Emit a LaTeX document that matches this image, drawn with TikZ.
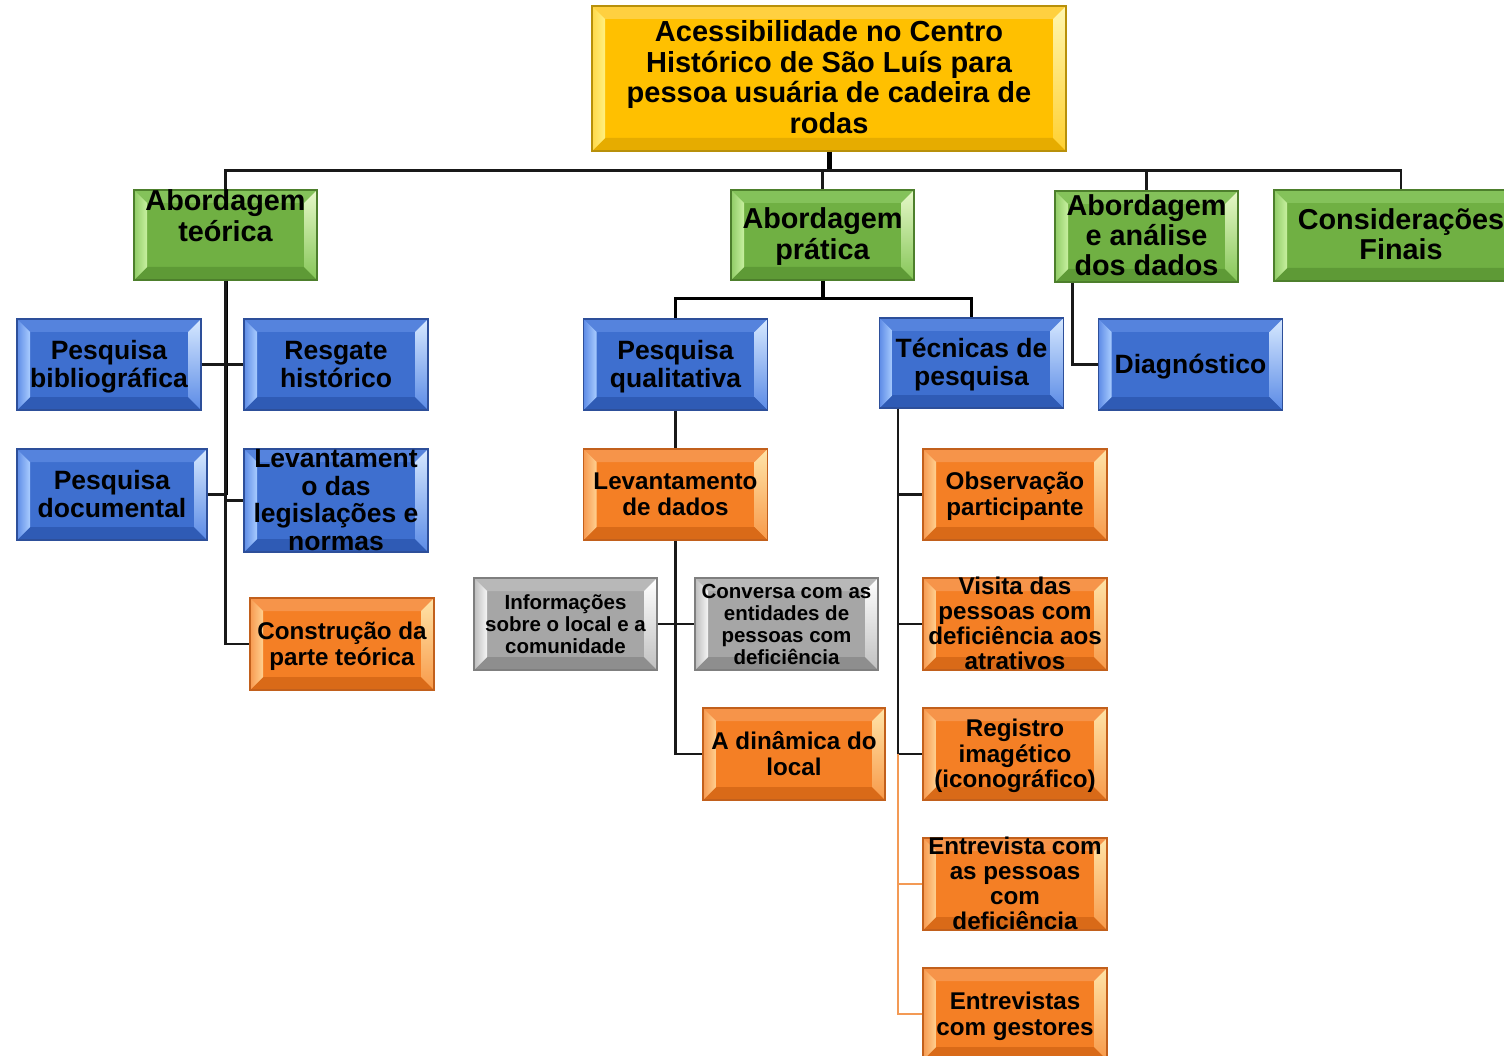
\documentclass[tikz,border=0pt]{standalone}
\usepackage{fontspec}
\setmainfont{Liberation Sans}
\usetikzlibrary{calc}
% colour families
\definecolor{ylwBase}{HTML}{FFC000}\definecolor{ylwEdge}{HTML}{B8900A}
\definecolor{ylwTop}{HTML}{FFD040}\definecolor{ylwBot}{HTML}{E6AC00}
\definecolor{ylwLeftA}{HTML}{FFD84A}\definecolor{ylwLeftB}{HTML}{FFF080}
\definecolor{ylwRightA}{HTML}{FFF6B0}\definecolor{ylwRightB}{HTML}{FFD030}
\definecolor{grnBase}{HTML}{70B043}\definecolor{grnEdge}{HTML}{4D7F2C}
\definecolor{grnTop}{HTML}{84C25A}\definecolor{grnBot}{HTML}{5E9A36}
\definecolor{grnLeftA}{HTML}{90CC66}\definecolor{grnLeftB}{HTML}{C8F0A0}
\definecolor{grnRightA}{HTML}{E6F8C8}\definecolor{grnRightB}{HTML}{86C658}
\definecolor{bluBase}{HTML}{3E6FCF}\definecolor{bluEdge}{HTML}{2D4F9A}
\definecolor{bluTop}{HTML}{5583DD}\definecolor{bluBot}{HTML}{2F5BB5}
\definecolor{bluLeftA}{HTML}{5E8CE6}\definecolor{bluLeftB}{HTML}{A9CCFF}
\definecolor{bluRightA}{HTML}{D6E8FF}\definecolor{bluRightB}{HTML}{5B8BE6}
\definecolor{orgBase}{HTML}{F47F25}\definecolor{orgEdge}{HTML}{C2601C}
\definecolor{orgTop}{HTML}{F6944A}\definecolor{orgBot}{HTML}{D96A18}
\definecolor{orgLeftA}{HTML}{F79A50}\definecolor{orgLeftB}{HTML}{FFD090}
\definecolor{orgRightA}{HTML}{FFE4A8}\definecolor{orgRightB}{HTML}{F89A4A}
\definecolor{gryBase}{HTML}{A6A6A6}\definecolor{gryEdge}{HTML}{7F7F7F}
\definecolor{gryTop}{HTML}{B8B8B8}\definecolor{gryBot}{HTML}{8E8E8E}
\definecolor{gryLeftA}{HTML}{BDBDBD}\definecolor{gryLeftB}{HTML}{F5F5F5}
\definecolor{gryRightA}{HTML}{FFFFFF}\definecolor{gryRightB}{HTML}{C0C0C0}
\definecolor{lnOrange}{HTML}{F39A55}
\newcommand\bx[2][0pt]{\raisebox{\dimexpr(\depth-\height)/2-3pt+#1\relax}[0pt][0pt]{\begin{tabular}{@{}c@{}}#2\end{tabular}}}
\tikzset{
  bev/.style={rectangle, inner sep=0pt, fill=#1Base, draw=#1Edge, line width=1.2pt, text=black,
    path picture={
      \path (path picture bounding box.north west) coordinate (q1)
            (path picture bounding box.north east) coordinate (q2)
            (path picture bounding box.south east) coordinate (q3)
            (path picture bounding box.south west) coordinate (q4);
      \fill[#1Top] (q1) -- (q2) -- ([shift={(-13pt,-13pt)}]q2) -- ([shift={(13pt,-13pt)}]q1) -- cycle;
      \fill[#1Bot] (q4) -- (q3) -- ([shift={(-13pt,13pt)}]q3) -- ([shift={(13pt,13pt)}]q4) -- cycle;
      \shade[left color=#1LeftA, right color=#1LeftB] (q1) -- ([shift={(13pt,-13pt)}]q1) -- ([shift={(13pt,13pt)}]q4) -- (q4) -- cycle;
      \shade[top color=#1RightA, bottom color=#1RightB] (q2) -- (q3) -- ([shift={(-13pt,13pt)}]q3) -- ([shift={(-13pt,-13pt)}]q2) -- cycle;
    }},
  titlebox/.style={bev=ylw, font=\fontsize{29}{30.7}\selectfont\bfseries},
  greenbox/.style={bev=grn, minimum width=183, minimum height=91, font=\fontsize{28.8}{30}\selectfont\bfseries},
  bluebox/.style={bev=blu, minimum width=184, minimum height=91, font=\fontsize{26.5}{28}\selectfont\bfseries},
  orangebox/.style={bev=org, minimum width=184, minimum height=92, font=\fontsize{24.2}{26}\selectfont\bfseries},
  graybox/.style={bev=gry, minimum width=183, minimum height=92, font=\fontsize{20.5}{22}\selectfont\bfseries},
  tight/.style={font=\fontsize{24.2}{25}\selectfont\bfseries},
  conn/.style={draw=black!90, line width=2.2pt},
  bus/.style={draw=black, line width=3.4pt},
  stub/.style={draw=black, line width=5pt},
  oconn/.style={draw=lnOrange, line width=2.2pt},
}
\begin{document}
\begin{tikzpicture}[x=1pt,y=-1pt]
\useasboundingbox[fill=white] (0,0) rectangle (1504,1056);
% title
\node[titlebox, minimum width=474, minimum height=145] (title) at (829,78.5)
  {\bx{Acessibilidade no Centro\\Histórico de São Luís para\\pessoa usuária de cadeira de\\rodas}};
% level 1
\node[greenbox, minimum height=90] (at) at (225.5,235) {\bx[18pt]{Abordagem\\teórica}};
\node[greenbox, minimum height=90] (ap) at (822.5,235) {\bx{Abordagem\\prática}};
\node[greenbox] (aa) at (1146.5,236.5) {\bx{Abordagem\\e análise\\dos dados}};
\node[greenbox, minimum width=254] (cf) at (1401,235.5) {\bx{Considerações\\Finais}};
% teórica children
\node[bluebox] (pb) at (109,364.5) {\bx{Pesquisa\\bibliográfica}};
\node[bluebox] (rh) at (336,364.5) {\bx{Resgate\\histórico}};
\node[bluebox, minimum width=190] (pd) at (112,494.5) {\bx{Pesquisa\\documental}};
\node[bluebox, minimum height=103, font=\fontsize{26.5}{27.7}\selectfont\bfseries] (lev) at (336,500.5) {\bx{Levantament\\o das\\legislações e\\normas}};
\node[orangebox] (ct) at (342,644) {\bx{Construção da\\parte teórica}};
% prática children
\node[bluebox] (pq) at (675.5,364.5) {\bx{Pesquisa\\qualitativa}};
\node[bluebox, minimum height=90] (tp) at (971.5,363) {\bx{Técnicas de\\pesquisa}};
\node[orangebox, minimum height=91] (ld) at (675.5,494.5) {\bx{Levantamento\\de dados}};
\node[graybox] (inf) at (565.5,624) {\bx{Informações\\sobre o local e a\\comunidade}};
\node[graybox] (conv) at (786.5,624) {\bx{Conversa com as\\entidades de\\pessoas com\\deficiência}};
\node[orangebox, minimum width=182] (ad) at (794,754) {\bx{A dinâmica do\\local}};
\node[orangebox, minimum height=91] (obs) at (1015,494.5) {\bx{Observação\\participante}};
\node[orangebox, tight] (vis) at (1015,624) {\bx{Visita das\\pessoas com\\deficiência aos\\atrativos}};
\node[orangebox, tight] (reg) at (1015,754) {\bx{Registro\\imagético\\(iconográfico)}};
\node[orangebox, tight] (ent) at (1015,884) {\bx{Entrevista com\\as pessoas\\com\\deficiência}};
\node[orangebox] (eg) at (1015,1014) {\bx{Entrevistas\\com gestores}};
% análise child
\node[bluebox] (diag) at (1190.5,364.5) {\bx{Diagnóstico}};
% connectors: title bus
\draw[stub] (title.south) -- ++(0,19) coordinate (tbus);
\draw[bus] (at.north |- tbus) -- (cf.north |- tbus);
\draw[conn] (tbus) -| (at.north);
\draw[conn] (tbus) -| (ap.north);
\draw[conn] (tbus) -| (aa.north);
\draw[conn] (tbus) -| (cf.north);
% teórica
\draw[line width=4pt] (at.south) -- (at.south |- pd.east);
\draw[conn] (at.south) |- (ct.west);
\draw[conn] (pb.east) -- (rh.west);
\draw[conn] (pd.east) -- (pd.east -| at.south);
\draw[conn] (lev.west) -- (lev.west -| at.south);
% prática
\draw[line width=4pt] (ap.south) -- ++(0,18) coordinate (pbus);
\draw[line width=2.8pt] (pbus) -| (pq.north);
\draw[line width=2.8pt] (pbus) -| (tp.north);
\draw[conn] (pq.south) -- (ld.north);
\draw[conn] (ld.south) |- (ad.west);
\draw[conn] (inf.east) -- (conv.west);
% técnicas
\coordinate (tsp) at ([xshift=19pt]tp.south west);
\draw[conn] (tsp) |- (reg.west);
\draw[conn] (tsp) |- (obs.west);
\draw[conn] (tsp) |- (vis.west);
\draw[oconn] (tsp |- reg.west) |- (ent.west);
\draw[oconn] (tsp |- ent.west) |- (eg.west);
% análise
\draw[conn] ([xshift=18pt]aa.south west) |- (diag.west);
\end{tikzpicture}
\end{document}
